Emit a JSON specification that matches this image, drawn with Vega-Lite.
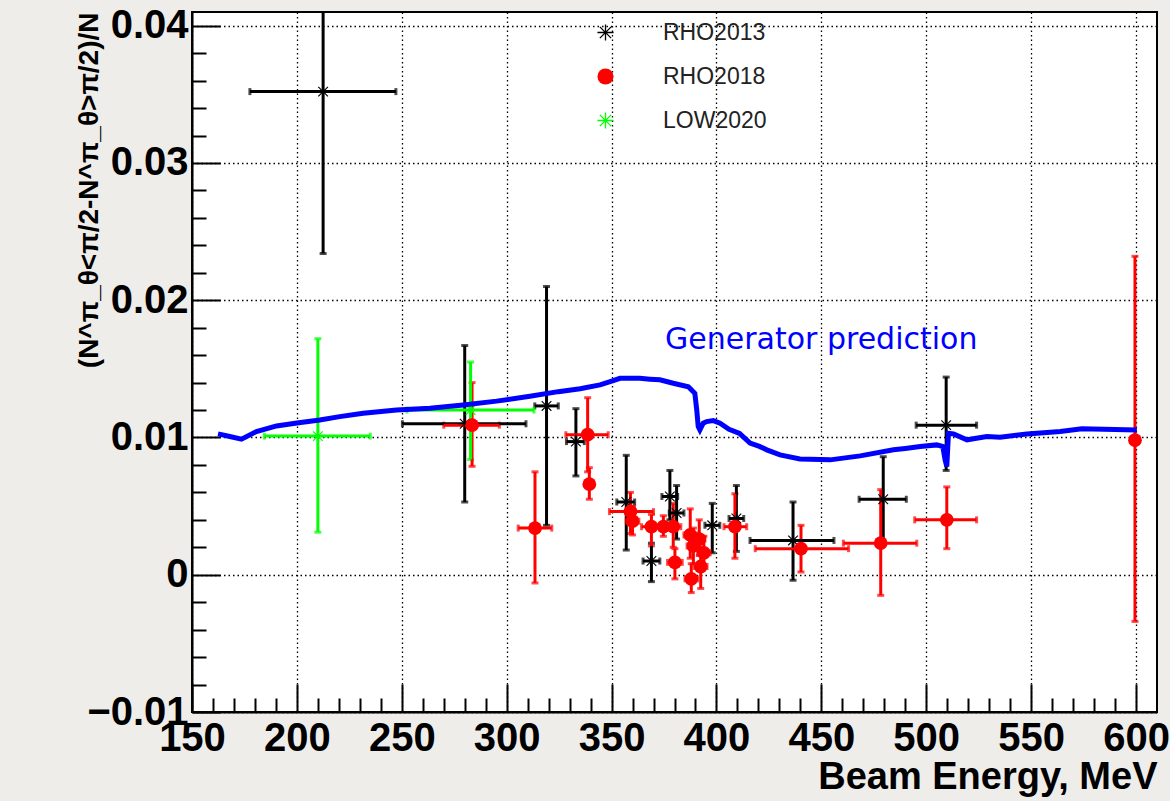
{
  "$schema": "https://vega.github.io/schema/vega-lite/v6.json",
  "width": 965,
  "height": 700,
  "autosize": {"type": "none"},
  "padding": {"left": 192, "top": 12, "right": 13, "bottom": 89},
  "background": "#efedea",
  "config": {
    "view": {"fill": "white", "stroke": "black", "strokeWidth": 2},
    "font": "Liberation Sans",
    "axis": {
      "domainColor": "black", "domainWidth": 2,
      "tickColor": "black", "tickWidth": 2,
      "labelFont": "Liberation Sans", "labelFontWeight": "bold", "labelFontSize": 40, "labelColor": "black",
      "titleFont": "Liberation Sans", "titleFontWeight": "bold", "titleColor": "black",
      "grid": true, "gridColor": "black", "gridDash": [1.5, 3], "gridWidth": 1.3,
      "labelOverlap": false, "labelFlush": false, "labelBound": false, "tickCount": 200
    },
    "legend": {
      "orient": "none", "legendX": 402, "legendY": 9, "padding": 0,
      "labelFont": "Liberation Sans", "labelFontSize": 23, "labelColor": "#222222",
      "symbolSize": 260, "labelOffset": 46, "rowPadding": 20, "symbolStrokeWidth": 0
    }
  },
  "resolve": {"legend": {"color": "independent", "shape": "independent"}},
  "datasets": {
    "pts": [
      {"set":"RHO2013","E":212.5,"Elo":177.6,"Ehi":247.2,"v":0.0352,"vlo":0.0234,"vhi":0.0470},
      {"set":"RHO2013","E":280,"Elo":250.3,"Ehi":309.2,"v":0.0110,"vlo":0.0053,"vhi":0.0167},
      {"set":"RHO2013","E":319,"Elo":313.4,"Ehi":324.6,"v":0.0123,"vlo":0.0036,"vhi":0.0210},
      {"set":"RHO2013","E":333,"Elo":328.5,"Ehi":337,"v":0.0097,"vlo":0.0072,"vhi":0.0121},
      {"set":"RHO2013","E":357,"Elo":352.5,"Ehi":361,"v":0.0053,"vlo":0.0018,"vhi":0.0087},
      {"set":"RHO2013","E":369,"Elo":365,"Ehi":373,"v":0.0010,"vlo":-0.0005,"vhi":0.0023},
      {"set":"RHO2013","E":377.8,"Elo":374,"Ehi":381.5,"v":0.0057,"vlo":0.0040,"vhi":0.0076},
      {"set":"RHO2013","E":381,"Elo":377.5,"Ehi":384.5,"v":0.0045,"vlo":0.0026,"vhi":0.0065},
      {"set":"RHO2013","E":398,"Elo":394.5,"Ehi":401.6,"v":0.0036,"vlo":0.0016,"vhi":0.0052},
      {"set":"RHO2013","E":409.5,"Elo":406,"Ehi":413,"v":0.0041,"vlo":0.0017,"vhi":0.0065},
      {"set":"RHO2013","E":436.5,"Elo":416,"Ehi":456,"v":0.0025,"vlo":-0.0004,"vhi":0.0053},
      {"set":"RHO2013","E":479.5,"Elo":468,"Ehi":490.5,"v":0.0055,"vlo":0.0023,"vhi":0.0086},
      {"set":"RHO2013","E":509.5,"Elo":495.2,"Ehi":524,"v":0.0109,"vlo":0.0076,"vhi":0.0144},
      {"set":"RHO2018","E":283.5,"Elo":270,"Ehi":296.5,"v":0.0109,"vlo":0.0079,"vhi":0.0140},
      {"set":"RHO2018","E":313.5,"Elo":305.5,"Ehi":321.5,"v":0.0034,"vlo":-0.0006,"vhi":0.0075},
      {"set":"RHO2018","E":338.6,"Elo":328.2,"Ehi":348.4,"v":0.0102,"vlo":0.0075,"vhi":0.0129},
      {"set":"RHO2018","E":339.4,"Elo":338,"Ehi":341,"v":0.0066,"vlo":0.0055,"vhi":0.0078},
      {"set":"RHO2018","E":359,"Elo":349,"Ehi":370,"v":0.0046,"vlo":0.0030,"vhi":0.0060},
      {"set":"RHO2018","E":360,"Elo":357,"Ehi":363,"v":0.0039,"vlo":0.0029,"vhi":0.0050},
      {"set":"RHO2018","E":369,"Elo":364.3,"Ehi":374.4,"v":0.0035,"vlo":0.0021,"vhi":0.0044},
      {"set":"RHO2018","E":374.7,"Elo":370.7,"Ehi":378.7,"v":0.0035,"vlo":0.0028,"vhi":0.0043},
      {"set":"RHO2018","E":379.4,"Elo":376,"Ehi":383,"v":0.0035,"vlo":0.0020,"vhi":0.0052},
      {"set":"RHO2018","E":380.2,"Elo":376.7,"Ehi":383.7,"v":0.0009,"vlo":-0.0003,"vhi":0.0019},
      {"set":"RHO2018","E":387.5,"Elo":384.5,"Ehi":390.5,"v":0.0029,"vlo":0.0012,"vhi":0.0048},
      {"set":"RHO2018","E":389,"Elo":386,"Ehi":392,"v":0.0021,"vlo":0.0008,"vhi":0.0034},
      {"set":"RHO2018","E":391.8,"Elo":389,"Ehi":394.5,"v":0.0026,"vlo":0.0014,"vhi":0.0040},
      {"set":"RHO2018","E":394,"Elo":391,"Ehi":397,"v":0.0016,"vlo":0.0005,"vhi":0.0028},
      {"set":"RHO2018","E":392.5,"Elo":389.5,"Ehi":395.5,"v":0.0006,"vlo":-0.0010,"vhi":0.0020},
      {"set":"RHO2018","E":388,"Elo":385,"Ehi":391,"v":-0.0003,"vlo":-0.0013,"vhi":0.0008},
      {"set":"RHO2018","E":408.8,"Elo":403.6,"Ehi":414.4,"v":0.0035,"vlo":0.0012,"vhi":0.0059},
      {"set":"RHO2018","E":440.3,"Elo":418.5,"Ehi":463,"v":0.0019,"vlo":0.0002,"vhi":0.0036},
      {"set":"RHO2018","E":478.3,"Elo":460.5,"Ehi":495.5,"v":0.0023,"vlo":-0.0015,"vhi":0.0062},
      {"set":"RHO2018","E":509.8,"Elo":494.5,"Ehi":524,"v":0.0040,"vlo":0.0019,"vhi":0.0064},
      {"set":"RHO2018","E":599.5,"Elo":598.5,"Ehi":600.5,"v":0.0098,"vlo":-0.0034,"vhi":0.0232},
      {"set":"LOW2020","E":210,"Elo":184.5,"Ehi":235,"v":0.0101,"vlo":0.0031,"vhi":0.0172},
      {"set":"LOW2020","E":282.8,"Elo":252.5,"Ehi":313,"v":0.0120,"vlo":0.0084,"vhi":0.0155}
    ],
    "curve": [
      {"E":162.4,"v":0.01026},{"E":168,"v":0.01007},{"E":173.6,"v":0.00988},{"E":180.7,"v":0.01043},
      {"E":190.3,"v":0.01084},{"E":200,"v":0.01105},{"E":210.9,"v":0.01128},{"E":220.4,"v":0.01152},
      {"E":231.6,"v":0.01177},{"E":247.5,"v":0.01201},{"E":263.4,"v":0.01213},{"E":279.3,"v":0.01237},
      {"E":295.2,"v":0.01265},{"E":311.1,"v":0.013},{"E":324.6,"v":0.01334},{"E":335,"v":0.01355},
      {"E":344.5,"v":0.01383},{"E":350.8,"v":0.01414},{"E":354,"v":0.01431},{"E":363.5,"v":0.01431},
      {"E":368.3,"v":0.01425},{"E":373,"v":0.0142},{"E":379.4,"v":0.01395},{"E":386.6,"v":0.0137},
      {"E":388.5,"v":0.0134},{"E":389.7,"v":0.01322},{"E":390.6,"v":0.01201},{"E":391.3,"v":0.01079},
      {"E":392.1,"v":0.01055},{"E":393.7,"v":0.01104},{"E":395.3,"v":0.01116},{"E":398.5,"v":0.01123},
      {"E":401.7,"v":0.01104},{"E":406,"v":0.0106},{"E":411,"v":0.0103},{"E":416,"v":0.00959},
      {"E":420.5,"v":0.00935},{"E":424,"v":0.0091},{"E":430.3,"v":0.00873},{"E":439.8,"v":0.00843},
      {"E":454.2,"v":0.00837},{"E":468.5,"v":0.00866},{"E":484.4,"v":0.0091},{"E":490,"v":0.0092},
      {"E":497.1,"v":0.00934},{"E":505,"v":0.00946},{"E":507.9,"v":0.00934},{"E":509,"v":0.00837},
      {"E":509.8,"v":0.00788},{"E":510.6,"v":0.01031},{"E":513,"v":0.01026},{"E":519.4,"v":0.00983},
      {"E":528.9,"v":0.01007},{"E":535.2,"v":0.01002},{"E":548,"v":0.01026},{"E":563.9,"v":0.01043},
      {"E":574.2,"v":0.01063},{"E":600.4,"v":0.01055}
    ],
    "note": [{"label":"Generator prediction","E":375.5,"v":0.0171}]
  },
  "layer": [
    {
      "data": {"name": "pts"},
      "mark": {"type": "errorbar", "thickness": 3, "ticks": {"size": 7}, "clip": true},
      "encoding": {
        "x": {"field": "E", "type": "quantitative",
          "scale": {"domain": [150, 610], "nice": false, "zero": false},
          "axis": {
            "title": "Beam Energy, MeV", "titleFontSize": 38, "titleAnchor": "end", "titlePadding": -14,
            "values": [150,160,170,180,190,200,210,220,230,240,250,260,270,280,290,300,310,320,330,340,350,360,370,380,390,400,410,420,430,440,450,460,470,480,490,500,510,520,530,540,550,560,570,580,590,600],
            "tickCount": 200,
            "labelExpr": "datum.value % 50 === 0 ? datum.label : ''",
            "tickSize": {"condition": {"test": "datum.value % 50 === 0", "value": -28}, "value": -14},
            "gridOpacity": {"condition": {"test": "datum.value % 50 === 0", "value": 1}, "value": 0},
            "labelPadding": 34
          }
        },
        "y": {"field": "vlo", "type": "quantitative",
          "scale": {"domain": [-0.01, 0.041], "nice": false, "zero": false},
          "axis": {
            "title": "(N^π_θ<π/2-N^π_θ>π/2)/N", "titleFontSize": 28, "titleAnchor": "end", "titlePadding": -17,
            "values": [-0.01,-0.008,-0.006,-0.004,-0.002,0,0.002,0.004,0.006,0.008,0.01,0.012,0.014,0.016,0.018,0.02,0.022,0.024,0.026,0.028,0.03,0.032,0.034,0.036,0.038,0.04],
            "tickCount": 200,
            "format": ".2~f",
            "labelExpr": "abs(round(datum.value*1000)) % 10 === 0 ? datum.label : ''",
            "tickSize": {"condition": {"test": "abs(round(datum.value*1000)) % 10 === 0", "value": -28}, "value": -14},
            "gridOpacity": {"condition": {"test": "abs(round(datum.value*1000)) % 10 === 0", "value": 1}, "value": 0},
            "labelPadding": 32
          }
        },
        "y2": {"field": "vhi"},
        "color": {"field": "set", "type": "nominal", "legend": null,
          "scale": {"domain": ["RHO2013", "RHO2018", "LOW2020"], "range": ["#000000", "#ff0000", "#00ff00"]}}
      }
    },
    {
      "data": {"name": "pts"},
      "mark": {"type": "errorbar", "thickness": 3, "ticks": {"size": 7}, "clip": true},
      "encoding": {
        "x": {"field": "Elo", "type": "quantitative", "title": "Beam Energy, MeV"},
        "x2": {"field": "Ehi"},
        "y": {"field": "v", "type": "quantitative"},
        "color": {"field": "set", "type": "nominal", "legend": null}
      }
    },
    {
      "data": {"name": "pts"},
      "mark": {"type": "point", "filled": true, "size": 190, "opacity": 1, "clip": true},
      "encoding": {
        "x": {"field": "E", "type": "quantitative"},
        "y": {"field": "v", "type": "quantitative"},
        "color": {"field": "set", "type": "nominal", "legend": {"title": null}},
        "shape": {"field": "set", "type": "nominal",
          "scale": {"domain": ["RHO2013", "RHO2018", "LOW2020"],
            "range": [
              "M-1,-0.08L1,-0.08L1,0.08L-1,0.08ZM-0.08,-1L0.08,-1L0.08,1L-0.08,1ZM-0.643,-0.757L0.757,0.643L0.643,0.757L-0.757,-0.643ZM-0.757,0.643L0.643,-0.757L0.757,-0.643L-0.643,0.757Z",
              "circle",
              "M-1,-0.08L1,-0.08L1,0.08L-1,0.08ZM-0.08,-1L0.08,-1L0.08,1L-0.08,1ZM-0.643,-0.757L0.757,0.643L0.643,0.757L-0.757,-0.643ZM-0.757,0.643L0.643,-0.757L0.757,-0.643L-0.643,0.757Z"
            ]},
          "legend": {"title": null}}
      }
    },
    {
      "data": {"name": "curve"},
      "mark": {"type": "line", "color": "#0000ff", "strokeWidth": 5, "clip": true},
      "encoding": {
        "x": {"field": "E", "type": "quantitative"},
        "y": {"field": "v", "type": "quantitative"}
      }
    },
    {
      "data": {"name": "note"},
      "mark": {"type": "text", "align": "left", "baseline": "middle", "font": "DejaVu Sans", "fontSize": 30, "color": "#0000ff"},
      "encoding": {
        "x": {"field": "E", "type": "quantitative"},
        "y": {"field": "v", "type": "quantitative"},
        "text": {"field": "label"}
      }
    }
  ]
}
